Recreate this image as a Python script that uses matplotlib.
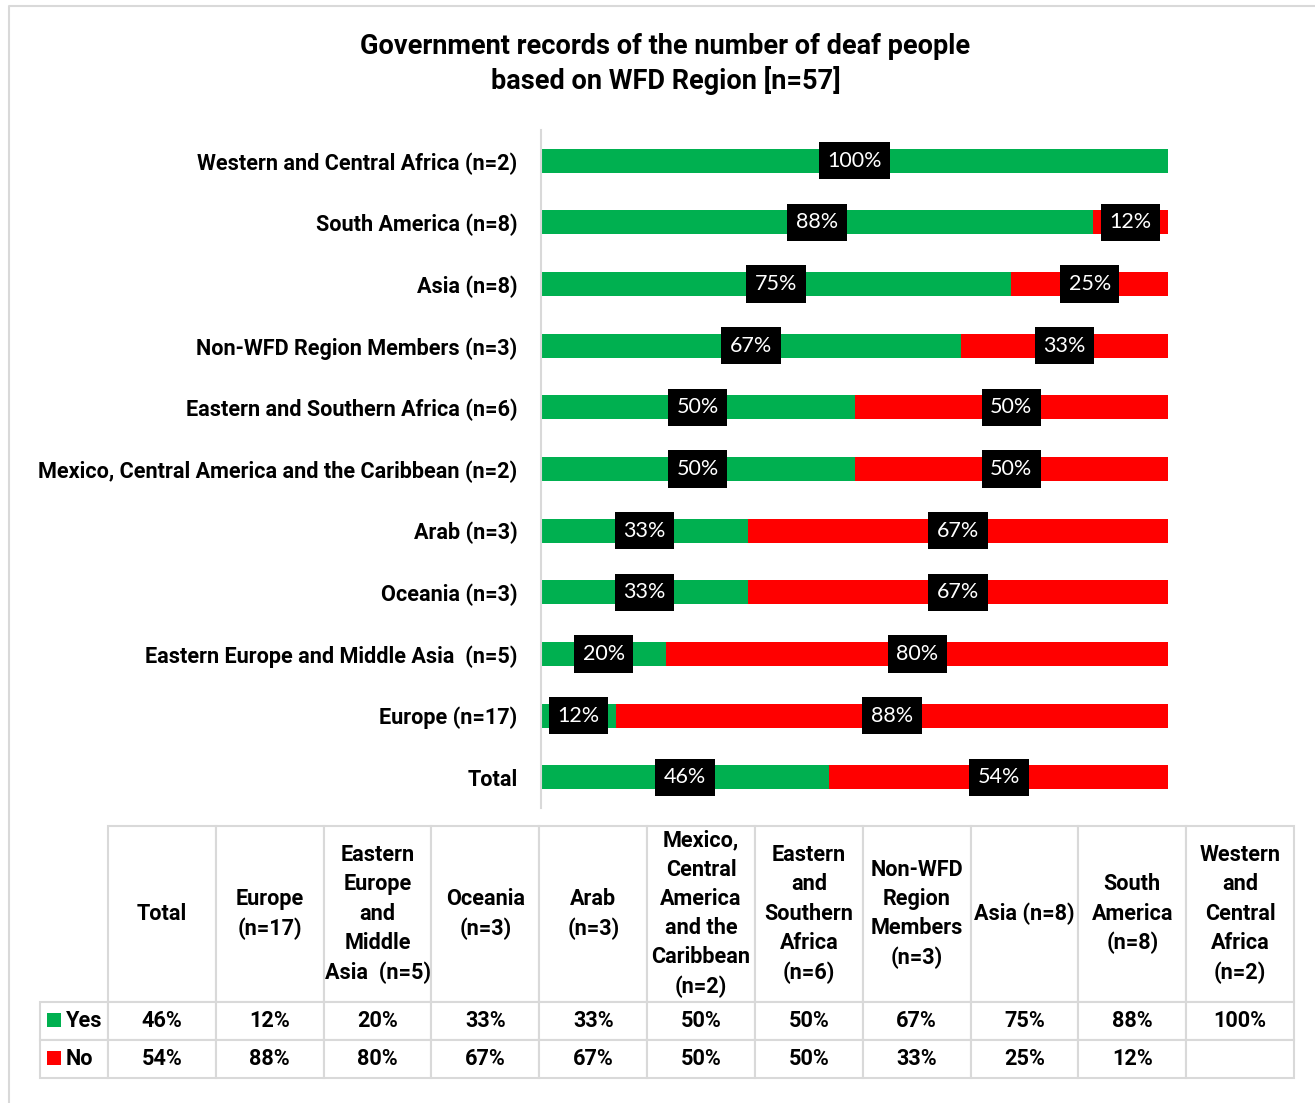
import matplotlib.pyplot as plt
from matplotlib.patches import Rectangle
from matplotlib.lines import Line2D
from matplotlib.table import Table

# Regions in table order (bottom bar first)
regions = [
    "Total",
    "Europe (n=17)",
    "Eastern Europe and Middle Asia  (n=5)",
    "Oceania (n=3)",
    "Arab (n=3)",
    "Mexico, Central America and the Caribbean (n=2)",
    "Eastern and Southern Africa (n=6)",
    "Non-WFD Region Members (n=3)",
    "Asia (n=8)",
    "South America (n=8)",
    "Western and Central Africa (n=2)",
]
table_headers = [
    "Total",
    "Europe\n(n=17)",
    "Eastern\nEurope\nand\nMiddle\nAsia  (n=5)",
    "Oceania\n(n=3)",
    "Arab\n(n=3)",
    "Mexico,\nCentral\nAmerica\nand the\nCaribbean\n(n=2)",
    "Eastern\nand\nSouthern\nAfrica\n(n=6)",
    "Non-WFD\nRegion\nMembers\n(n=3)",
    "Asia (n=8)",
    "South\nAmerica\n(n=8)",
    "Western\nand\nCentral\nAfrica\n(n=2)",
]
series = ["Yes", "No"]
yes_pct = [46, 12, 20, 33, 33, 50, 50, 67, 75, 88, 100]
no_pct = [54, 88, 80, 67, 67, 50, 50, 33, 25, 12, 0]

GREEN = "#00B050"
RED = "#FF0000"
GRID = "#D9D9D9"
BOLD_FONT = "Roboto"
LABEL_FONT = "Lato"
TEXT_SIZE = 15.6

W, H = 1315, 1103
plt.rcParams["font.family"] = BOLD_FONT

fig = plt.figure(figsize=(W / 100, H / 100), dpi=100)


def box(left, top, right, bottom):
    return [left / W, 1 - bottom / H, (right - left) / W, (bottom - top) / H]


# light frame around the chart area
fig.add_artist(Line2D([9 / W, 9 / W, 1.0], [0.0, 1 - 6 / H, 1 - 6 / H],
                      transform=fig.transFigure, color=GRID, lw=1.5))

fig.text(0.506, 1 - 64 / H,
         "Government records of the number of deaf people\nbased on WFD Region [n=57]",
         ha="center", va="center", fontsize=19.5, fontweight="bold", linespacing=1.28)

# ---- stacked bars ----
ax = fig.add_axes(box(541, 130, 1168, 808))
ypos = list(range(len(regions)))
ax.barh(ypos, yes_pct, height=0.39, color=GREEN)
ax.barh(ypos, no_pct, left=yes_pct, height=0.39, color=RED)
ax.set_xlim(0, 100)
ax.set_ylim(-0.5, len(regions) - 0.5)
ax.set_yticks(ypos)
ax.set_yticklabels(regions, fontsize=TEXT_SIZE, fontweight="bold")
ax.tick_params(axis="y", length=0, pad=17)
ax.set_xticks([])
for s in ["top", "right", "bottom"]:
    ax.spines[s].set_visible(False)
ax.spines["left"].set_color(GRID)
ax.spines["left"].set_linewidth(1.5)

for y, (yv, nv) in enumerate(zip(yes_pct, no_pct)):
    for start, val in [(0, yv), (yv, nv)]:
        if val > 0:
            ax.text(start + val / 2, y, f"{val}%", ha="center", va="center",
                    color="white", fontsize=15.5, family=LABEL_FONT,
                    bbox=dict(boxstyle="square,pad=0.4", fc="black", ec="none"))

# ---- data table ----
tax = fig.add_axes(box(40, 826, 1294, 1078))
tax.axis("off")
tbl = Table(tax, bbox=[0, 0, 1, 1])
first_w, col_w = 68 / 1254, 107.8 / 1254
head_h, row_h = 176 / 252, 38 / 252

corner = tbl.add_cell(0, 0, first_w, head_h, text="")
corner.visible_edges = "open"
for j, hdr in enumerate(table_headers, start=1):
    tbl.add_cell(0, j, col_w, head_h, text=hdr, loc="center")

rows = [[f"{v}%" for v in yes_pct],
        [f"{v}%" if v > 0 else "" for v in no_pct]]
for i, (name, vals) in enumerate(zip(series, rows), start=1):
    lab = tbl.add_cell(i, 0, first_w, row_h, text=name, loc="left")
    lab.PAD = 0.38
    for j, v in enumerate(vals, start=1):
        tbl.add_cell(i, j, col_w, row_h, text=v, loc="center")

tbl.auto_set_font_size(False)
for cell in tbl.get_celld().values():
    cell.set_edgecolor(GRID)
    cell.set_linewidth(1.5)
    cell.set_text_props(fontsize=TEXT_SIZE, fontweight="bold", linespacing=1.42)
tax.add_table(tbl)

# legend keys in the row label cells
for top, col in [(1013, GREEN), (1051, RED)]:
    fig.add_artist(Rectangle((47 / W, 1 - (top + 14) / H), 14 / W, 14 / H,
                             transform=fig.transFigure, color=col, lw=0))

fig.savefig("out.png", dpi=100, facecolor="white")
